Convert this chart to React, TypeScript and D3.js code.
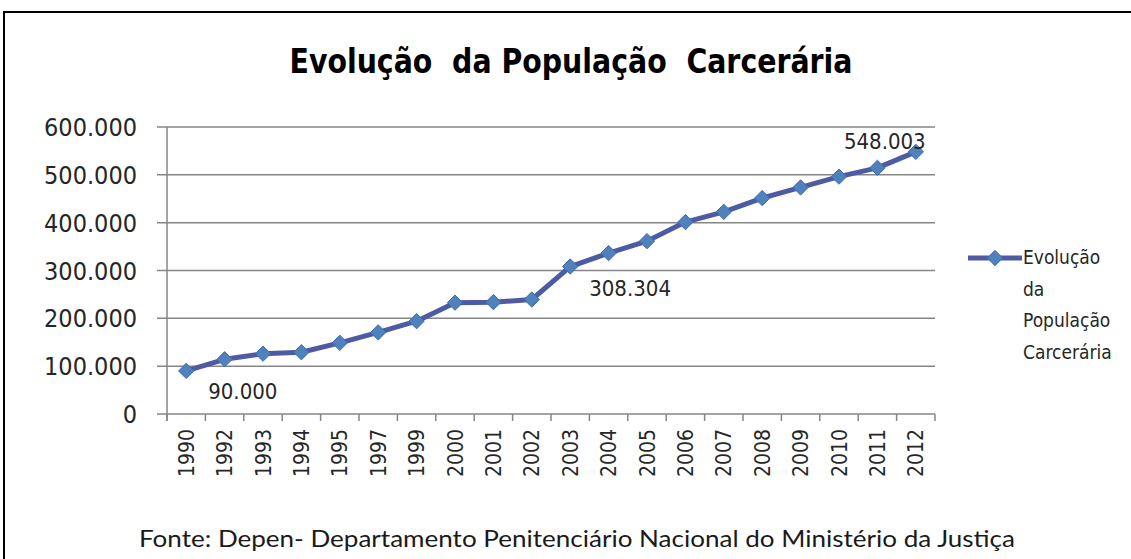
import React, { useEffect, useRef } from "react";
import * as d3 from "d3";

const years = ["1990", "1992", "1993", "1994", "1995", "1997", "1999", "2000", "2001", "2002", "2003", "2004", "2005", "2006", "2007", "2008", "2009", "2010", "2011", "2012"];
const population = [90000, 114377, 126152, 129169, 148760, 170602, 194074, 232755, 233859, 239345, 308304, 336358, 361402, 401236, 422590, 451429, 473626, 496251, 514582, 548003];
const yTicks = [0, 100000, 200000, 300000, 400000, 500000, 600000];
// which points carry a data label, with their offset from the marker
const labelled = [
  { index: 0, text: "90.000", dx: 22, dy: 28, anchor: "start" },
  { index: 10, text: "308.304", dx: 19, dy: 29, anchor: "start" },
  { index: 19, text: "548.003", dx: -31, dy: -3, anchor: "middle" },
];
const title = "Evolução  da População  Carcerária";
const legendLines = ["Evolução", "da", "População", "Carcerária"];
const source = "Fonte: Depen- Departamento Penitenciário Nacional do Ministério da Justiça";

const W = 1131;
const H = 559;
const FONT = "'DejaVu Sans Condensed', 'DejaVu Sans', sans-serif";
const LINE = "#4d5ba3";
const MARK = "#4f81bd";

const fmt = (v: number) => d3.format(",")(v).replace(/,/g, ".");

const App = () => {
  const svgRef = useRef<SVGSVGElement>(null);

  useEffect(() => {
    const svg = d3.select(svgRef.current);
    svg.selectAll("*").remove();

    const left = 167, right = 935, top = 127, bottom = 414;

    const x = d3.scaleBand().domain(years).range([left, right]);
    const y = d3.scaleLinear().domain([0, 600000]).range([bottom, top]);

    // outer frame
    svg.append("rect")
      .attr("x", 4).attr("y", 12)
      .attr("width", 1140).attr("height", 560)
      .attr("fill", "#fff")
      .attr("stroke", "#000")
      .attr("stroke-width", 2);

    // title
    svg.append("text")
      .attr("x", 571).attr("y", 73)
      .attr("text-anchor", "middle")
      .attr("textLength", 563)
      .attr("lengthAdjust", "spacingAndGlyphs")
      .style("font-family", FONT)
      .style("font-weight", "bold")
      .style("font-size", "33px")
      .style("fill", "#000")
      .style("white-space", "pre")
      .text(title);

    // gridlines
    svg.append("g")
      .selectAll("line")
      .data(yTicks)
      .join("line")
      .attr("x1", left - 10).attr("x2", right)
      .attr("y1", d => y(d)).attr("y2", d => y(d))
      .attr("stroke", "#868686")
      .attr("stroke-width", 1.5);

    // y axis line
    svg.append("line")
      .attr("x1", left).attr("x2", left)
      .attr("y1", top).attr("y2", bottom + 7)
      .attr("stroke", "#868686")
      .attr("stroke-width", 1.5);

    // y labels
    svg.append("g")
      .selectAll("text")
      .data(yTicks)
      .join("text")
      .attr("x", 137)
      .attr("y", d => y(d))
      .attr("dy", "0.36em")
      .attr("text-anchor", "end")
      .style("font-family", FONT)
      .style("font-size", "25px")
      .style("fill", "#262626")
      .text(d => fmt(d));

    // x ticks at band edges
    const edges = years.map(d => x(d)!).concat([right]);
    svg.append("g")
      .selectAll("line")
      .data(edges)
      .join("line")
      .attr("x1", d => d).attr("x2", d => d)
      .attr("y1", bottom).attr("y2", bottom + 7)
      .attr("stroke", "#868686")
      .attr("stroke-width", 1.5);

    // x labels rotated
    svg.append("g")
      .selectAll("text")
      .data(years)
      .join("text")
      .attr("transform", d => `translate(${x(d)! + x.bandwidth() / 2},429) rotate(-90)`)
      .attr("dy", "0.36em")
      .attr("text-anchor", "end")
      .style("font-family", FONT)
      .style("font-size", "21px")
      .style("fill", "#262626")
      .text(d => d);

    // series line
    const pts = years.map((d, i) => ({ x: x(d)! + x.bandwidth() / 2, y: y(population[i]) }));
    const line = d3.line<{ x: number; y: number }>().x(d => d.x).y(d => d.y);
    svg.append("path")
      .datum(pts)
      .attr("fill", "none")
      .attr("stroke", LINE)
      .attr("stroke-width", 5)
      .attr("stroke-linejoin", "round")
      .attr("d", line);

    const diamond = d3.symbol().type(d3.symbolDiamond2).size(150);
    svg.append("g")
      .selectAll("path")
      .data(pts)
      .join("path")
      .attr("transform", d => `translate(${d.x},${d.y})`)
      .attr("d", diamond)
      .attr("fill", MARK)
      .attr("stroke", "#3e6cb2")
      .attr("stroke-width", 1);

    // data labels
    svg.append("g")
      .selectAll("text")
      .data(labelled)
      .join("text")
      .attr("x", d => pts[d.index].x + d.dx)
      .attr("y", d => pts[d.index].y + d.dy)
      .attr("text-anchor", d => d.anchor)
      .style("font-family", FONT)
      .style("font-size", "22px")
      .style("fill", "#262626")
      .text(d => d.text);

    // legend
    const lg = svg.append("g").attr("transform", "translate(968,258)");
    lg.append("line")
      .attr("x1", 0).attr("x2", 54)
      .attr("y1", 0).attr("y2", 0)
      .attr("stroke", LINE)
      .attr("stroke-width", 5);
    lg.append("path")
      .attr("transform", "translate(27,0)")
      .attr("d", diamond)
      .attr("fill", MARK)
      .attr("stroke", "#3e6cb2");
    lg.selectAll("text.leg")
      .data(legendLines)
      .join("text")
      .attr("class", "leg")
      .attr("x", 55)
      .attr("y", (d, i) => 6 + i * 31.5)
      .style("font-family", FONT)
      .style("font-size", "19px")
      .style("fill", "#262626")
      .text(d => d);

    // source note
    svg.append("text")
      .attr("x", 139).attr("y", 547)
      .attr("textLength", 876)
      .attr("lengthAdjust", "spacingAndGlyphs")
      .style("font-family", "Lato, 'Open Sans', sans-serif")
      .style("font-size", "24px")
      .style("fill", "#1a1a1a")
      .text(source);
  }, []);

  return (
    <div style={{ position: "absolute", left: 0, top: 0 }}>
      <svg ref={svgRef} width={W} height={H} style={{ display: "block", background: "#fff" }} />
    </div>
  );
};

export default App;
